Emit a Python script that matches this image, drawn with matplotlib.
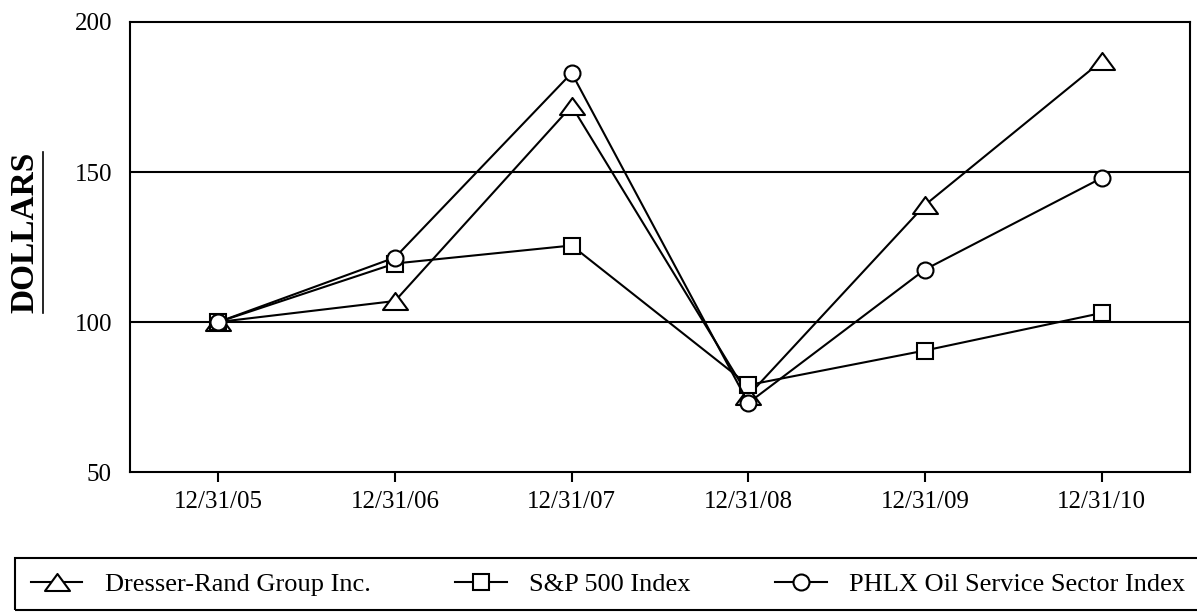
import matplotlib
matplotlib.use("Agg")
import matplotlib.pyplot as plt
from matplotlib.path import Path
from matplotlib.patches import Rectangle
from matplotlib.lines import Line2D

plt.rcParams['font.family'] = ['Liberation Serif', 'DejaVu Serif']

# Datos
fechas = ["12/31/05", "12/31/06", "12/31/07", "12/31/08", "12/31/09", "12/31/10"]
dresser_rand = [100, 107, 172, 75.5, 139, 187]
sp500 = [100, 119.5, 125.5, 79, 90.5, 103]
phlx_oil = [100, 121.5, 183, 73, 117.5, 148]
y_ticks = [50, 100, 150, 200]

# Triángulo más ancho que alto, como en el original
triangulo = Path([(-1, -0.68), (1, -0.68), (0, 0.68), (-1, -0.68)],
                 [Path.MOVETO, Path.LINETO, Path.LINETO, Path.CLOSEPOLY])

fig = plt.figure(figsize=(11.97, 6.12), dpi=100)
ax = fig.add_axes([130 / 1197, 1 - 472 / 612, 1060 / 1197, 450 / 612])

x = range(len(fechas))
estilo = dict(color="black", lw=1.5, markerfacecolor="white",
              markeredgecolor="black", markeredgewidth=1.5)

l1, = ax.plot(x, dresser_rand, marker=triangulo, markersize=18, zorder=3, **estilo)
l2, = ax.plot(x, sp500, marker="s", markersize=11, zorder=3, **estilo)
l3, = ax.plot(x, phlx_oil, marker="o", markersize=11.5, zorder=3, **estilo)

# Líneas horizontales en 100 y 150
for v in y_ticks[1:-1]:
    ax.axhline(v, color="black", lw=1.5, zorder=1)

ax.set_xlim(-0.5, 5.5)
ax.set_ylim(50, 200)
ax.set_xticks(list(x))
ax.set_xticklabels(fechas, fontsize=18)
ax.set_yticks(y_ticks)
ax.set_yticklabels([str(v) for v in y_ticks], fontsize=18)
ax.tick_params(axis="x", direction="out", length=7, width=1.5, pad=7)
ax.tick_params(axis="y", length=0, pad=13)
for s in ax.spines.values():
    s.set_linewidth(1.5)

# Etiqueta del eje Y (subrayada)
fig.text(25 / 1197, 1 - 232 / 612, "DOLLARS", rotation=90, fontsize=24,
         fontweight="bold", ha="center", va="center")
fig.add_artist(Line2D([43 / 1197, 43 / 1197], [1 - 152 / 612, 1 - 313 / 612],
                      transform=fig.transFigure, color="black", lw=1.2))

# Leyenda con marco que se sale por la derecha
fig.add_artist(Rectangle((15 / 1197, 1 - 610 / 612), 1.1, 52 / 612,
                         transform=fig.transFigure, fill=False,
                         edgecolor="black", lw=1.5, clip_on=False))
fig.legend([l1, l2, l3],
           ["Dresser-Rand Group Inc.", "S&P 500 Index", "PHLX Oil Service Sector Index"],
           loc="center left", bbox_to_anchor=(31 / 1197, 1 - 584 / 612),
           ncol=3, frameon=False, fontsize=19, borderpad=0, borderaxespad=0,
           handlelength=1.95, handletextpad=0.85, columnspacing=3.2)

fig.savefig("out.png", dpi=100)
